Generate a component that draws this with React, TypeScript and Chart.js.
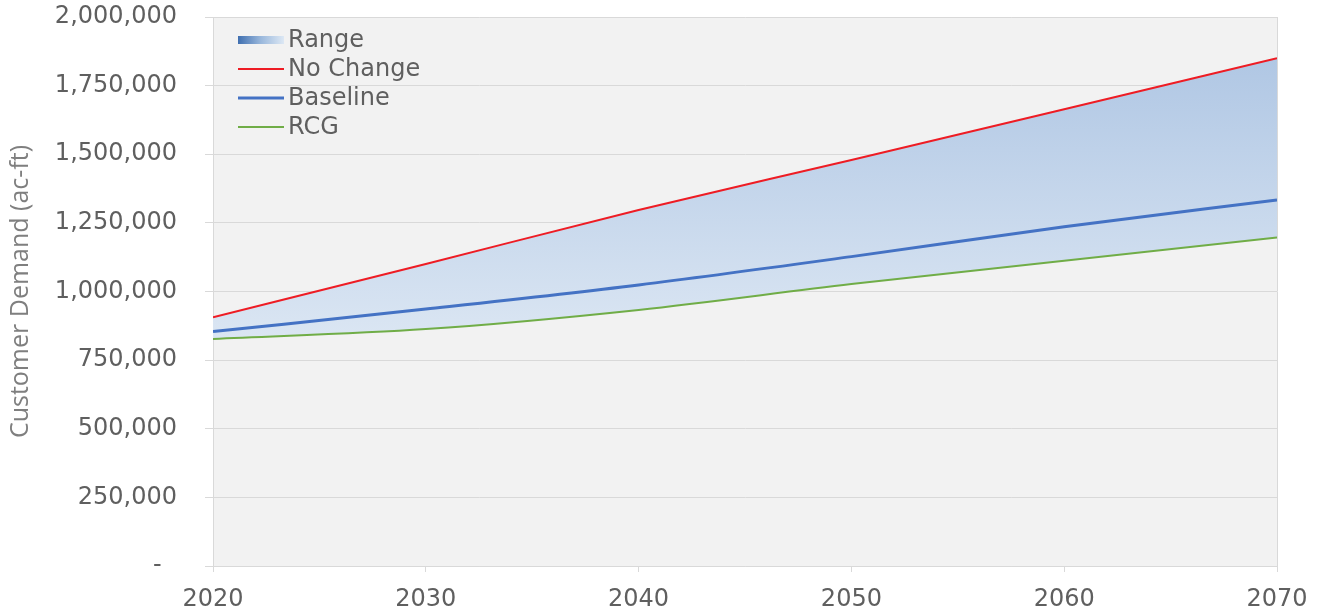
import React, { useEffect, useRef } from "react";
import { Chart, registerables } from "chart.js";

Chart.register(...registerables);

const years = [2020, 2030, 2040, 2050, 2060, 2070];
const noChange = [906000, 1100000, 1297000, 1479000, 1664000, 1850000];
const baseline = [854000, 936000, 1024000, 1127000, 1236000, 1333000];
const rcg = [827000, 863000, 933000, 1027000, 1112000, 1197000];

const legendItems = [
  { label: "Range", kind: "box", color: "" },
  { label: "No Change", kind: "line", color: "#ee1c24", width: 2 },
  { label: "Baseline", kind: "line", color: "#4472c4", width: 3 },
  { label: "RCG", kind: "line", color: "#70ad47", width: 2 },
];

const TICK_FONT = { family: "'DejaVu Sans', Verdana, sans-serif", size: 24 };
const TEXT_COLOR = "#5f5f5f";
const GRID = "#d9d9d9";

function toPts(vals: number[]) {
  return vals.map((v, i) => ({ x: years[i], y: v }));
}

export default function App() {
  const ref = useRef<HTMLCanvasElement | null>(null);

  useEffect(() => {
    if (!ref.current) return;

    const bgPlugin = {
      id: "plotBg",
      beforeDraw(chart: any) {
        const { ctx, chartArea: a } = chart;
        ctx.save();
        ctx.fillStyle = "#f2f2f2";
        ctx.fillRect(a.left, a.top, a.right - a.left, a.bottom - a.top);
        ctx.strokeStyle = GRID;
        ctx.lineWidth = 1;
        ctx.beginPath();
        ctx.moveTo(a.right + 0.5, a.top);
        ctx.lineTo(a.right + 0.5, a.bottom);
        ctx.stroke();
        ctx.restore();
      },
    };

    const legendPlugin = {
      id: "innerLegend",
      afterDatasetsDraw(chart: any) {
        const { ctx } = chart;
        const x0 = 238;
        const x1 = 284;
        let y = 40;
        ctx.save();
        ctx.font = `${TICK_FONT.size}px ${TICK_FONT.family}`;
        ctx.textBaseline = "middle";
        ctx.textAlign = "left";
        for (const it of legendItems) {
          if (it.kind === "box") {
            const g = ctx.createLinearGradient(x0, 0, x1, 0);
            g.addColorStop(0, "#3f6fb0");
            g.addColorStop(0.5, "#9ab8dc");
            g.addColorStop(1, "#dde8f4");
            ctx.fillStyle = g;
            ctx.fillRect(x0, y - 4, x1 - x0, 8);
          } else {
            ctx.strokeStyle = it.color;
            ctx.lineWidth = (it as any).width;
            ctx.beginPath();
            ctx.moveTo(x0, y);
            ctx.lineTo(x1, y);
            ctx.stroke();
          }
          ctx.fillStyle = TEXT_COLOR;
          ctx.fillText(it.label, 288, y + 1);
          y += 29;
        }
        ctx.restore();
      },
    };

    const chart = new Chart(ref.current, {
      type: "line",
      data: {
        datasets: [
          {
            label: "RCG",
            data: toPts(rcg),
            borderColor: "#70ad47",
            borderWidth: 2,
            pointRadius: 0,
            cubicInterpolationMode: "monotone",
            fill: false,
          },
          {
            label: "Baseline",
            data: toPts(baseline),
            borderColor: "#4472c4",
            borderWidth: 3,
            pointRadius: 0,
            cubicInterpolationMode: "monotone",
            fill: false,
          },
          {
            label: "No Change",
            data: toPts(noChange),
            borderColor: "#ee1c24",
            borderWidth: 2,
            pointRadius: 0,
            cubicInterpolationMode: "monotone",
            fill: { target: 0 },
            backgroundColor: (c: any) => {
              const chart = c.chart;
              const a = chart.chartArea;
              if (!a) return "#c8d8ec";
              const ys = chart.scales.y;
              const top = ys.getPixelForValue(Math.max(...noChange));
              const bot = ys.getPixelForValue(Math.min(...rcg));
              const g = chart.ctx.createLinearGradient(0, top, 0, bot);
              g.addColorStop(0, "#b0c7e4");
              g.addColorStop(1, "#dbe6f3");
              return g;
            },
          },
        ],
      },
      options: {
        animation: false,
        responsive: false,
        layout: { padding: { top: 17, right: 44, left: 0, bottom: 0 } },
        plugins: {
          legend: { display: false },
          tooltip: { enabled: false },
        },
        scales: {
          x: {
            type: "linear",
            min: 2020,
            max: 2070,
            ticks: {
              stepSize: 10,
              font: TICK_FONT,
              color: TEXT_COLOR,
              padding: 13,
              maxRotation: 0,
              callback: (v: any) => String(v),
            },
            grid: {
              drawOnChartArea: false,
              drawTicks: true,
              tickLength: 6,
              color: GRID,
            },
            border: { color: GRID },
            afterFit: (s: any) => {
              s.height = 43;
              s.paddingLeft = 0;
              s.paddingRight = 0;
            },
          },
          y: {
            min: 0,
            max: 2000000,
            ticks: {
              stepSize: 250000,
              font: TICK_FONT,
              color: TEXT_COLOR,
              padding: 28,
              callback: (v: any) =>
                v === 0 ? "-  " : Number(v).toLocaleString("en-US"),
            },
            grid: { color: GRID, tickLength: 8 },
            border: { color: GRID },
            title: {
              display: true,
              text: "Customer Demand (ac-ft)",
              color: "#7f7f7f",
              font: { family: "'Open Sans', sans-serif", size: 25 },
              padding: { top: 6, bottom: 0 },
            },
            afterFit: (s: any) => {
              s.width = 213;
              s.paddingTop = 0;
              s.paddingBottom = 0;
            },
          },
        },
      },
      plugins: [bgPlugin, legendPlugin],
    } as any);

    return () => chart.destroy();
  }, []);

  return (
    <div style={{ position: "absolute", left: 0, top: 0, width: 1321, height: 609, background: "#fff" }}>
      <canvas ref={ref} width={1321} height={609} />
    </div>
  );
}
